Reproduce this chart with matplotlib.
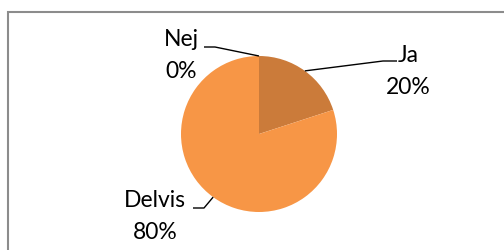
import matplotlib.pyplot as plt
import numpy as np
from matplotlib.patches import Rectangle

plt.rcParams['font.family'] = ['Lato', 'DejaVu Sans']

labels = ['Ja', 'Delvis', 'Nej']
values = [20, 80, 0]
colors = ['#CB7B3A', '#F79646', '#F79646']

W, H = 504, 251
fig = plt.figure(figsize=(W / 100, H / 100), dpi=100)
ax = fig.add_axes([0, 0, 1, 1])

cx, cy, r = 259, H - 135, 78
wedges, _ = ax.pie(values, colors=colors, startangle=90, counterclock=False,
                   center=(cx, cy), radius=r, frame=True,
                   wedgeprops=dict(linewidth=0))
ax.set_xlim(0, W)
ax.set_ylim(0, H)
ax.set_aspect('auto')
ax.axis('off')

# border of chart area
ax.add_patch(Rectangle((7.5, -20), W, H - 12.5 + 20, fill=False,
                       edgecolor='#8c8c8c', lw=1.5, zorder=5))

# label layout (image coords: x, y of name line) and leader elbows
layout = {
    'Ja': dict(text=(408, 55), elbow=[(383, 62), (397, 62)]),
    'Delvis': dict(text=(155, 201), elbow=[(204, 209), (193, 209)]),
    'Nej': dict(text=(181, 40), elbow=[(215, 48), (204, 48)]),
}

total = sum(values)
start = 90.0
for lab, v in zip(labels, values):
    span = 360.0 * v / total
    mid = np.deg2rad(start - span / 2)
    start -= span
    ax_x = cx + r * np.cos(mid)
    ax_y = cy + r * np.sin(mid)
    pct = '%d%%' % round(100 * v / total)
    tx, ty = layout[lab]['text']
    ax.text(tx, H - ty, lab, ha='center', va='center', fontsize=16.5, color='black')
    ax.text(tx, H - ty - 32, pct, ha='center', va='center', fontsize=16.5, color='black')
    pts = [(ax_x, ax_y)] + [(px, H - py) for px, py in layout[lab]['elbow']]
    xs, ys = zip(*pts)
    ax.plot(xs, ys, color='black', lw=1.0, solid_capstyle='butt')

fig.savefig('out.png', dpi=100)
